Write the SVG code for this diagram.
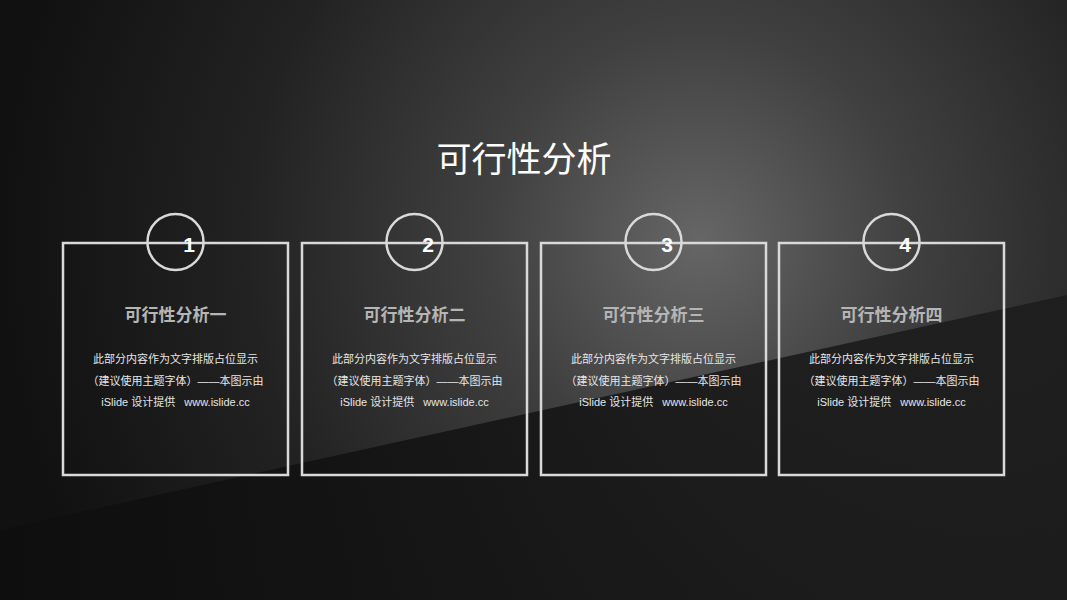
<svg xmlns="http://www.w3.org/2000/svg" width="1067" height="600" viewBox="0 0 1067 600">
<defs>
<radialGradient id="bg" cx="700" cy="240" r="700" gradientUnits="userSpaceOnUse">
<stop offset="0" stop-color="#666666"/>
<stop offset="0.3" stop-color="#404040"/>
<stop offset="0.65" stop-color="#222222"/>
<stop offset="1" stop-color="#111111"/>
</radialGradient>
<linearGradient id="low" x1="0" y1="0" x2="1" y2="0">
<stop offset="0" stop-color="#0e0e0e" stop-opacity="0.95"/>
<stop offset="1" stop-color="#1c1c1c" stop-opacity="0.85"/>
</linearGradient>
<style>
.box{fill:none;stroke:#d9d9d9;stroke-width:2.5}
.circ{fill:none;stroke:#d9d9d9;stroke-width:2.5}
.num{font-family:"Liberation Sans",Arial,sans-serif;font-weight:bold;font-size:21px;fill:#ffffff;text-anchor:middle}
.sub{font-family:"Noto Sans CJK SC","Liberation Sans",sans-serif;font-weight:bold;font-size:17px;fill:#b5b5b5;text-anchor:middle}
.body{font-family:"Liberation Sans","Noto Sans CJK SC",sans-serif;font-size:11px;fill:#e6e6e6;text-anchor:middle;white-space:pre}
.title{font-family:"Noto Sans CJK SC","Liberation Sans",sans-serif;font-size:35px;fill:#ffffff;text-anchor:middle}
</style>
</defs>
<rect width="1067" height="600" fill="url(#bg)"/>
<polygon points="0,530 270,470 1067,295 1067,600 0,600" fill="url(#low)"/>
<text class="title" x="524" y="172">可行性分析</text>
<g id="node1">
<rect class="box" x="63" y="243" width="225" height="232"/>
<circle class="circ" cx="175.5" cy="242" r="28"/>
<text class="num" x="189" y="252">1</text>
<text class="sub" x="175.5" y="321">可行性分析一</text>
<text class="body" x="175.5" y="363">此部分内容作为文字排版占位显示</text>
<text class="body" x="175.5" y="385">（建议使用主题字体）——本图示由</text>
<text class="body" x="175.5" y="406" xml:space="preserve">iSlide 设计提供   www.islide.cc</text>
</g>
<g id="node2">
<rect class="box" x="302" y="243" width="225" height="232"/>
<circle class="circ" cx="414.5" cy="242" r="28"/>
<text class="num" x="428" y="252">2</text>
<text class="sub" x="414.5" y="321">可行性分析二</text>
<text class="body" x="414.5" y="363">此部分内容作为文字排版占位显示</text>
<text class="body" x="414.5" y="385">（建议使用主题字体）——本图示由</text>
<text class="body" x="414.5" y="406" xml:space="preserve">iSlide 设计提供   www.islide.cc</text>
</g>
<g id="node3">
<rect class="box" x="541" y="243" width="225" height="232"/>
<circle class="circ" cx="653.5" cy="242" r="28"/>
<text class="num" x="667" y="252">3</text>
<text class="sub" x="653.5" y="321">可行性分析三</text>
<text class="body" x="653.5" y="363">此部分内容作为文字排版占位显示</text>
<text class="body" x="653.5" y="385">（建议使用主题字体）——本图示由</text>
<text class="body" x="653.5" y="406" xml:space="preserve">iSlide 设计提供   www.islide.cc</text>
</g>
<g id="node4">
<rect class="box" x="779" y="243" width="225" height="232"/>
<circle class="circ" cx="891.5" cy="242" r="28"/>
<text class="num" x="905" y="252">4</text>
<text class="sub" x="891.5" y="321">可行性分析四</text>
<text class="body" x="891.5" y="363">此部分内容作为文字排版占位显示</text>
<text class="body" x="891.5" y="385">（建议使用主题字体）——本图示由</text>
<text class="body" x="891.5" y="406" xml:space="preserve">iSlide 设计提供   www.islide.cc</text>
</g>
<g id="connectors"/>
</svg>
